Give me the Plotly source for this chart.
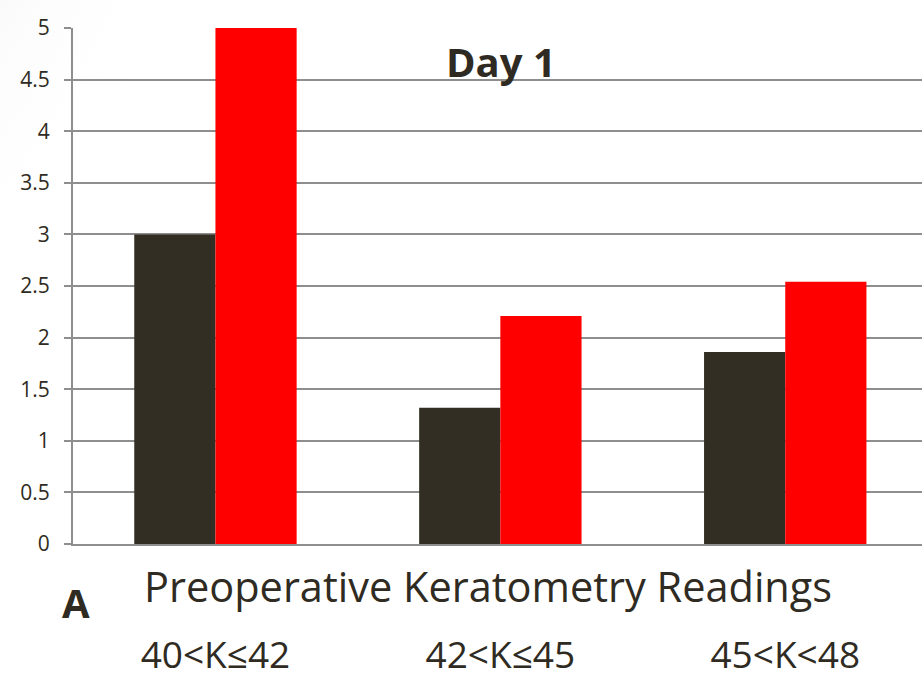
import base64
import plotly.graph_objects as go

# Mean values per keratometry group, Day 1
categories = ["40<K≤42", "42<K≤45", "45<K<48"]
series_dark = [3.0, 1.32, 1.86]
series_red = [5.0, 2.21, 2.54]
y_ticks = [0, 0.5, 1, 1.5, 2, 2.5, 3, 3.5, 4, 4.5, 5]
y_tick_text = ["0", "0.5", "1", "1.5", "2", "2.5", "3", "3.5", "4", "4.5", "5"]

TEXT = "#2f2b22"
GRID = "#8e8e8e"
FONT = "Open Sans"

W, H = 922, 678
ML, MT, MB = 73, 28, 134
PW, PH = W - ML, H - MT - MB


def px(x, y):
    """Pixel position on the page -> paper coordinates of the plot area."""
    return (x - ML) / PW, (H - MB - y) / PH


fig = go.Figure()
fig.add_trace(go.Bar(x=categories, y=series_dark, marker=dict(color="#322e24", line=dict(width=0)),
                     showlegend=False))
fig.add_trace(go.Bar(x=categories, y=series_red, marker=dict(color="#ff0000", line=dict(width=0)),
                     showlegend=False))

# soft grey shading in the top-left corner of the slide background
svg = """<svg xmlns='http://www.w3.org/2000/svg' width='922' height='678'>
<defs><radialGradient id='g' cx='0' cy='0' r='1' gradientUnits='objectBoundingBox'>
<stop offset='0' stop-color='#d9d9d9'/><stop offset='0.45' stop-color='#eeeeee'/>
<stop offset='1' stop-color='#ffffff' stop-opacity='0'/></radialGradient></defs>
<rect x='0' y='0' width='922' height='678' fill='white'/>
<ellipse cx='0' cy='0' rx='240' ry='400' fill='url(#g)'/></svg>"""
src = "data:image/svg+xml;base64," + base64.b64encode(svg.encode()).decode()

img_x, img_y = px(0, 0)
day_x, day_y = px(501, 61)
ttl_x, ttl_y = px(488, 586)
a_x, a_y = px(76, 602)

fig.update_layout(
    width=W, height=H,
    margin=dict(l=ML, r=0, t=MT, b=MB, autoexpand=False),
    paper_bgcolor="white", plot_bgcolor="rgba(0,0,0,0)",
    barmode="group", bargap=0.43, bargroupgap=0,
    font=dict(family=FONT, color=TEXT),
    images=[dict(source=src, xref="paper", yref="paper", x=img_x, y=img_y,
                 sizex=W / PW, sizey=H / PH, xanchor="left", yanchor="top",
                 sizing="stretch", layer="below")],
    xaxis=dict(
        range=[-0.5, 2.48], showgrid=False, showline=True, linecolor=GRID, linewidth=2,
        ticks="", tickfont=dict(size=37, color=TEXT, family=FONT), ticklabelstandoff=78,
        automargin=False, fixedrange=True,
    ),
    yaxis=dict(
        range=[0, 5], tickvals=y_ticks, ticktext=y_tick_text,
        showgrid=True, gridcolor=GRID, gridwidth=2,
        showline=True, linecolor=GRID, linewidth=2,
        ticks="outside", ticklen=7, tickwidth=2, tickcolor=GRID,
        tickfont=dict(size=21, color=TEXT, family=FONT), ticklabelstandoff=10,
        zeroline=False, automargin=False, fixedrange=True,
    ),
    annotations=[
        dict(text="<b>Day 1</b>", x=day_x, y=day_y, xref="paper", yref="paper",
             xanchor="center", yanchor="middle", showarrow=False,
             font=dict(size=40, color=TEXT, family=FONT)),
        dict(text="Preoperative Keratometry Readings", x=ttl_x, y=ttl_y,
             xref="paper", yref="paper", xanchor="center", yanchor="middle",
             showarrow=False, font=dict(size=41.5, color=TEXT, family=FONT)),
        dict(text="<b>A</b>", x=a_x, y=a_y, xref="paper", yref="paper",
             xanchor="center", yanchor="middle", showarrow=False,
             font=dict(size=40, color=TEXT, family=FONT)),
    ],
)

fig.write_html("out.html")
